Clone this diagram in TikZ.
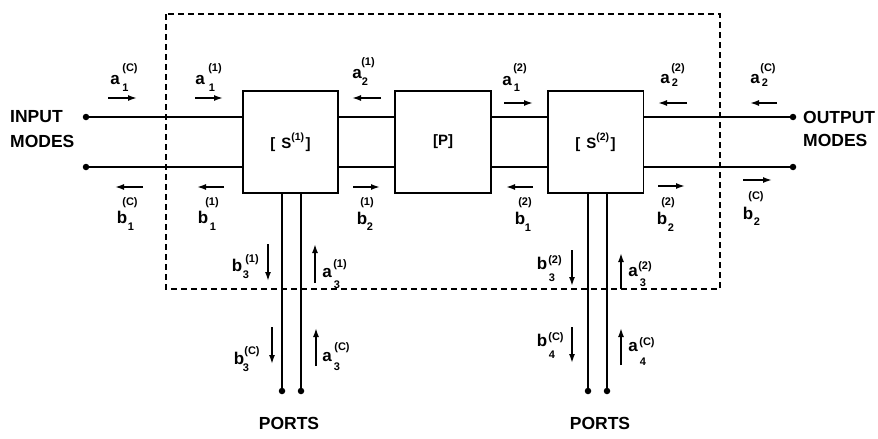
\documentclass[tikz,border=0pt]{standalone}
\usepackage{fontspec}
\setmainfont{Liberation Sans}
\usetikzlibrary{arrows.meta}
\tikzset{
 box/.style={draw,line width=1.5pt,minimum width=95pt,minimum height=102pt,inner sep=0pt,font=\fontsize{15}{15}\selectfont\bfseries},
 wire/.style={line width=1.7pt},
 dot/.style={circle,fill,inner sep=0pt,minimum size=6.5pt},
 flow/.style={line width=1.6pt,-{Latex[length=9pt,width=6pt]}},
 frame/.style={line width=1.2pt,dash pattern=on 6pt off 4pt},
 lt/.style={font=\fontsize{17}{17}\selectfont\bfseries,inner sep=0pt},
 sb/.style={font=\fontsize{11}{11}\selectfont\bfseries,inner sep=0pt},
 sp/.style={font=\fontsize{11}{11}\selectfont\bfseries,inner sep=0pt},
 big/.style={font=\fontsize{17.5}{17.5}\selectfont\bfseries,inner sep=0pt,anchor=west},
}
\newcommand\wlab[7]{\node[lt] (#1) at (#3) {#2}; \node[sb] (#1s) at (#5) {#4}; \node[sp] (#1p) at (#7) {(#6)};}
\newcommand\bsup[1]{\raisebox{8pt}{\fontsize{10.5}{10.5}\selectfont(#1)}}
\begin{document}
\begin{tikzpicture}[x=1pt,y=-1pt]
\useasboundingbox (0,0) rectangle (878,439);
% frame
\draw[frame] (166,14) rectangle (720,289);
% boxes
\node[box] (s1) at (290.5,142) {[\hspace{6pt}S\bsup{1}\hspace{1.5pt}]};
\node[box,minimum width=96pt] (p) at (443,142) {[P]};
\node[box,minimum width=95.5pt] (s2) at (595.5,142) {[\hspace{6pt}S\bsup{2}\hspace{1.5pt}]};
% end dots
\node[dot] (i1) at (86,117) {};
\node[dot] (i2) at (86,167) {};
\node[dot] (o1) at (793,117) {};
\node[dot] (o2) at (793,167) {};
\node[dot] (p1) at (282,391) {};
\node[dot] (p2) at (301,391) {};
\node[dot] (p3) at (588,391) {};
\node[dot] (p4) at (607,391) {};
% wires
\draw[wire] (i1.center) -- (i1.center -| s1.west);
\draw[wire] (i2.center) -- (i2.center -| s1.west);
\draw[wire] (i1.center -| s1.east) -- (i1.center -| p.west);
\draw[wire] (i2.center -| s1.east) -- (i2.center -| p.west);
\draw[wire] (i1.center -| p.east) -- (i1.center -| s2.west);
\draw[wire] (i2.center -| p.east) -- (i2.center -| s2.west);
\draw[wire] (o1.center) -- (o1.center -| s2.east);
\draw[wire] (o2.center) -- (o2.center -| s2.east);
\draw[wire] (p1.center) -- (p1.center |- s1.south);
\draw[wire] (p2.center) -- (p2.center |- s1.south);
\draw[wire] (p3.center) -- (p3.center |- s2.south);
\draw[wire] (p4.center) -- (p4.center |- s2.south);
% texts
\node[big] (inp) at (10,117) {INPUT};
\node[big] (inm) at (10,141) {MODES};
\node[big] (outp) at (803,117) {OUTPUT};
\node[big] (outm) at (803,140) {MODES};
\node[big,anchor=center] (port1) at (289,423) {PORTS};
\node[big,anchor=center] (port2) at (600,423) {PORTS};
% top arrows
\draw[flow] (108,98) -- (137,98);
\draw[flow] (195,98) -- (223,98);
\draw[flow] (381,98) -- (352,98);
\draw[flow] (504,103) -- (533,103);
\draw[flow] (687,103) -- (658,103);
\draw[flow] (777,103) -- (750,103);
% bottom arrows
\draw[flow] (143,187) -- (115,187);
\draw[flow] (224,187) -- (197,187);
\draw[flow] (353,187) -- (380,187);
\draw[flow] (533,187) -- (506,187);
\draw[flow] (658,186) -- (685,186);
\draw[flow] (743,180) -- (772,180);
% vertical arrows
\draw[flow] (268,244) -- (268,281);
\draw[flow] (315,283) -- (315,244);
\draw[flow] (272,327) -- (272,364);
\draw[flow] (316,366) -- (316,328);
\draw[flow] (572,250) -- (572,286);
\draw[flow] (621,289) -- (621,253);
\draw[flow] (572,327) -- (572,363);
\draw[flow] (621,365) -- (621,328);
% top labels
\wlab{a1C}{a}{115,80}{1}{125.5,88}{C}{130,69}
\wlab{a11}{a}{200,80}{1}{212,88}{1}{215,69}
\wlab{a21}{a}{357,74}{2}{365,82}{1}{368,63}
\wlab{a12}{a}{507,81}{1}{517,88}{2}{520,69}
\wlab{a22}{a}{665,79}{2}{675,83}{2}{678,69}
\wlab{a2C}{a}{755,79}{2}{765,83}{C}{768,69}
% bottom labels
\wlab{b1C}{b}{122,217}{1}{131,227}{C}{130,203}
\wlab{b11}{b}{203,217}{1}{213,227}{1}{212,203}
\wlab{b21}{b}{362,218}{2}{370,227}{1}{367,203}
\wlab{b12}{b}{520,218}{1}{528,228}{2}{525,203}
\wlab{b22}{b}{662,218}{2}{671,228}{2}{668,203}
\wlab{b2C}{b}{748,213}{2}{757,222}{C}{756,197}
% port labels
\wlab{b31}{b}{237,265}{3}{246,275}{1}{252,260}
\wlab{a31}{a}{327,273}{3}{337,285}{1}{340,265}
\wlab{b3C}{b}{239,358}{3}{246,368}{C}{252,352}
\wlab{a3C}{a}{327,357}{3}{337,367}{C}{342,348}
\wlab{b32}{b}{542,263}{3}{552,278}{2}{555,261}
\wlab{a32}{a}{633,272}{3}{643,283}{2}{645,267}
\wlab{b4C}{b}{542,340}{4}{552,355}{C}{556,338}
\wlab{a4C}{a}{633,347}{4}{643,362}{C}{647,343}
\end{tikzpicture}
\end{document}
